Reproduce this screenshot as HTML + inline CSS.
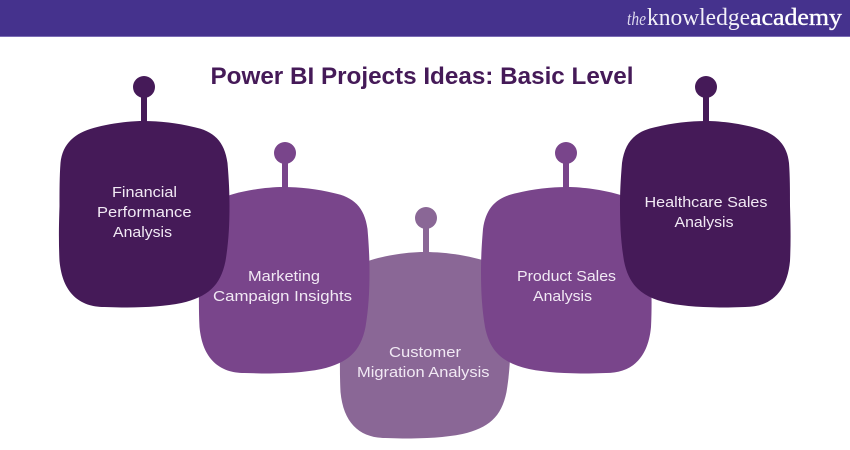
<!DOCTYPE html>
<html><head><meta charset="utf-8"><style>
html,body{margin:0;padding:0;background:#fff}
svg{display:block}
.l{font-family:"Liberation Sans",sans-serif;font-size:15px;fill:#f1e9f4}
</style></head><body>
<svg width="850" height="450" viewBox="0 0 850 450" xmlns="http://www.w3.org/2000/svg">
<defs>
<path id="b" d="M84,0 C100,0 118,2 134,6 C154,10 165,20 168,42 C169.5,60 170,72 170,85 C170,105 169,122 166,140 C161,165 148,176 122,182 C105,185.5 85,186.5 62,186.5 L45,186 C20,186 3,172 0,140 C-1,120 -0.5,100 0,85 C0,70 0,55 1,42 C3,22 16,12 34,7 C48,3 68,0 84,0 Z"/>
</defs>
<rect width="850" height="36" fill="#45328d"/>
<rect y="36" width="850" height="1" fill="#7a6cb4"/>
<text x="627" y="25" font-family="Liberation Serif,serif" font-style="italic" font-size="19" fill="#ddd8ee" textLength="19" lengthAdjust="spacingAndGlyphs">the</text>
<text x="647" y="25" font-family="Liberation Serif,serif" font-size="24" fill="#f2f0f8" textLength="103" lengthAdjust="spacingAndGlyphs">knowledge</text>
<text x="750" y="25" font-family="Liberation Serif,serif" font-size="24" fill="#fff" stroke="#fff" stroke-width="0.35" textLength="92" lengthAdjust="spacingAndGlyphs">academy</text>
<text x="210.5" y="84" font-family="Liberation Sans,sans-serif" font-weight="bold" font-size="24" fill="#451a58" textLength="423" lengthAdjust="spacingAndGlyphs">Power BI Projects Ideas: Basic Level</text>

<g fill="#8a6796"><circle cx="426" cy="218" r="11"/><rect x="423" y="218" width="6" height="36"/><use href="#b" x="340.5" y="252"/></g>
<g fill="#79458b"><circle cx="285" cy="153" r="11"/><rect x="282" y="153" width="6" height="36"/><use href="#b" x="199.5" y="187"/>
<circle cx="566" cy="153" r="11"/><rect x="563" y="153" width="6" height="36"/><use href="#b" transform="translate(651,187) scale(-1,1)"/></g>
<g fill="#451a58"><circle cx="144" cy="87" r="11"/><rect x="141" y="87" width="6" height="36"/><use href="#b" x="59.5" y="121"/>
<circle cx="706" cy="87" r="11"/><rect x="703" y="87" width="6" height="36"/><use href="#b" transform="translate(790,121) scale(-1,1)"/></g>

<g class="l">
<text x="112" y="197" textLength="65" lengthAdjust="spacingAndGlyphs">Financial</text>
<text x="97" y="217" textLength="94.5" lengthAdjust="spacingAndGlyphs">Performance</text>
<text x="113" y="237" textLength="59" lengthAdjust="spacingAndGlyphs">Analysis</text>
<text x="248" y="281" textLength="72" lengthAdjust="spacingAndGlyphs">Marketing</text>
<text x="213" y="301" textLength="139" lengthAdjust="spacingAndGlyphs">Campaign Insights</text>
<text x="389" y="357" textLength="72" lengthAdjust="spacingAndGlyphs">Customer</text>
<text x="357" y="377" textLength="132.5" lengthAdjust="spacingAndGlyphs">Migration Analysis</text>
<text x="517" y="281" textLength="99" lengthAdjust="spacingAndGlyphs">Product Sales</text>
<text x="533" y="301" textLength="59" lengthAdjust="spacingAndGlyphs">Analysis</text>
<text x="644.5" y="207" textLength="123" lengthAdjust="spacingAndGlyphs">Healthcare Sales</text>
<text x="674.5" y="227" textLength="59" lengthAdjust="spacingAndGlyphs">Analysis</text>
</g>
</svg>
</body></html>
